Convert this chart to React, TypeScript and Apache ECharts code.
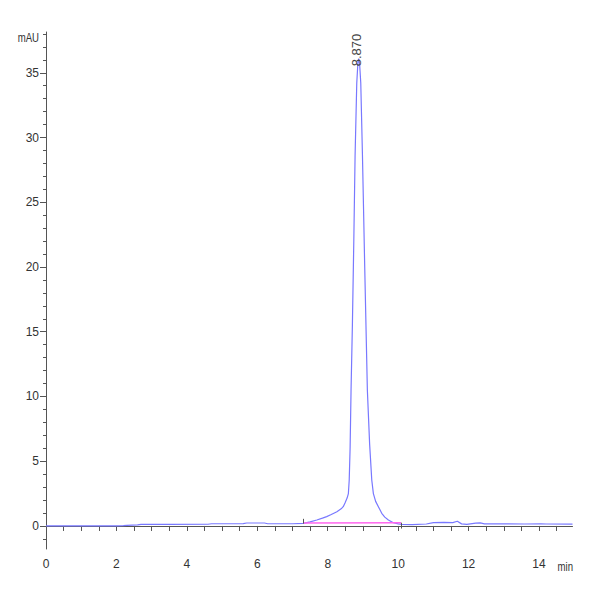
import React, { useEffect, useRef } from "react";
import * as echarts from "echarts";

const TIME = [
  0, 1.0, 2.0, 2.2, 2.3, 2.6, 2.7, 3.5, 4.6, 4.7, 5.6, 5.7, 6.2, 6.3, 7.0,
  7.31, 7.5, 7.69, 7.85, 7.97, 8.1, 8.26, 8.38, 8.44, 8.49, 8.55, 8.586, 8.61,
  8.635, 8.662, 8.7, 8.74, 8.776, 8.824, 8.855, 8.88, 8.905, 8.938, 8.985, 9.05,
  9.125, 9.19, 9.25, 9.296, 9.36, 9.438, 9.534, 9.62, 9.722, 9.864, 10.0, 10.1,
  10.4, 10.8, 11.0, 11.3, 11.55, 11.68, 11.8, 11.95, 12.2, 12.33, 12.45, 13.0,
  13.6, 14.05, 14.2, 14.95,
];
const SIGNAL = [
  0.0, 0.0, 0.01, 0.02, 0.05, 0.08, 0.12, 0.12, 0.13, 0.17, 0.18, 0.23, 0.23, 0.17, 0.17,
  0.2, 0.32, 0.46, 0.6, 0.72, 0.88, 1.1, 1.32, 1.49, 1.78, 2.15, 2.5, 3.55,
  6.0, 10.5, 15.5, 22.0, 28.5, 34.2, 35.7, 36.1, 35.7, 34.2, 28.7, 20.0,
  10.5, 6.3, 3.55, 2.5, 1.9, 1.49, 0.98, 0.68, 0.46, 0.25, 0.16, 0.12,
  0.1, 0.15, 0.26, 0.28, 0.26, 0.36, 0.16, 0.12, 0.22, 0.24, 0.16, 0.16,
  0.15, 0.17, 0.15, 0.14,
];

const PEAK_LABEL = "8.870";
const PEAK_LABEL_POS = [8.83, 35.5];
const BASELINE = [
  [7.31, 0.22],
  [10.08, 0.25],
];
const PEAK_START = [7.31, 0.18, 0.55];
const PEAK_END = [10.08, 0.25, -0.2];

const X_LABELS = [0, 2, 4, 6, 8, 10, 12, 14];
const X_TICKS = [
  0, 0.5, 1, 1.5, 2, 2.5, 3, 3.5, 4, 4.5, 5, 5.5, 6, 6.5, 7, 7.5, 8, 8.5, 9, 9.5,
  10, 10.5, 11, 11.5, 12, 12.5, 13, 13.5, 14, 14.5,
];
const Y_LABELS = [0, 5, 10, 15, 20, 25, 30, 35];
const Y_MINOR = [
  -1, 0, 1, 2, 3, 4, 5, 6, 7, 8, 9, 10, 11, 12, 13, 14, 15, 16, 17, 18, 19, 20,
  21, 22, 23, 24, 25, 26, 27, 28, 29, 30, 31, 32, 33, 34, 35, 36, 37, 38,
];

const FONT = "'Liberation Sans', Arial, sans-serif";
const AXIS_COLOR = "#555";
const TEXT_COLOR = "#333";

export default function App() {
  const ref = useRef<HTMLDivElement>(null);

  useEffect(() => {
    if (!ref.current) return;
    const chart = echarts.init(ref.current, null, { renderer: "svg" });
    const data = TIME.map((t, i) => [t, SIGNAL[i]]);
    const yBase = { type: "value", min: -1.78, max: 38.15, splitLine: { show: false } };
    chart.setOption({
      animation: false,
      grid: { left: 46, right: 27.5, top: 32, bottom: 51 },
      xAxis: {
        type: "value",
        min: 0,
        max: 14.95,
        splitLine: { show: false },
        axisLine: { lineStyle: { color: AXIS_COLOR, width: 1 } },
        axisTick: { customValues: X_TICKS, length: 5, lineStyle: { color: AXIS_COLOR } },
        axisLabel: {
          customValues: X_LABELS,
          margin: 9,
          color: TEXT_COLOR,
          fontSize: 12,
          fontFamily: FONT,
        },
      },
      yAxis: [
        {
          ...yBase,
          axisLine: { show: true, lineStyle: { color: AXIS_COLOR, width: 1 } },
          axisTick: { customValues: Y_LABELS, length: 6, lineStyle: { color: AXIS_COLOR } },
          axisLabel: {
            customValues: Y_LABELS,
            margin: 7,
            color: TEXT_COLOR,
            fontSize: 12,
            fontFamily: FONT,
          },
        },
        {
          ...yBase,
          position: "left",
          axisLine: { show: false },
          axisTick: { show: true, customValues: Y_MINOR, length: 3, lineStyle: { color: AXIS_COLOR } },
          axisLabel: { show: false },
        },
      ],
      graphic: [
        {
          type: "text",
          x: 39,
          y: 38,
          scaleX: 0.8,
          style: {
            text: "mAU",
            fill: TEXT_COLOR,
            fontSize: 12,
            fontFamily: FONT,
            align: "right",
            verticalAlign: "middle",
          },
        },
        {
          type: "text",
          x: 573,
          y: 567,
          scaleX: 0.8,
          style: {
            text: "min",
            fill: TEXT_COLOR,
            fontSize: 12,
            fontFamily: FONT,
            align: "right",
            verticalAlign: "middle",
          },
        },
      ],
      series: [
        {
          type: "line",
          data,
          yAxisIndex: 0,
          symbol: "none",
          lineStyle: { color: "#7878ff", width: 1.2 },
          markPoint: {
            symbol: "circle",
            symbolSize: 0,
            silent: true,
            data: [{ coord: PEAK_LABEL_POS, value: PEAK_LABEL }],
            label: {
              show: true,
              formatter: PEAK_LABEL,
              position: "inside",
              align: "left",
              verticalAlign: "middle",
              rotate: 90,
              color: "#444",
              fontSize: 13,
              fontFamily: FONT,
            },
          },
          markLine: {
            silent: true,
            symbol: "none",
            label: { show: false },
            lineStyle: { color: "#555", width: 1, type: "solid" },
            data: [
              [{ coord: [PEAK_START[0], PEAK_START[1]] }, { coord: [PEAK_START[0], PEAK_START[2]] }],
              [{ coord: [PEAK_END[0], PEAK_END[1]] }, { coord: [PEAK_END[0], PEAK_END[2]] }],
            ],
          },
        },
        {
          type: "line",
          data: BASELINE,
          yAxisIndex: 0,
          symbol: "none",
          lineStyle: { color: "#ff66ee", width: 1.5 },
        },
      ],
    });
    return () => chart.dispose();
  }, []);

  return (
    <div
      ref={ref}
      style={{ position: "fixed", left: 0, top: 0, width: 600, height: 600, background: "#fff" }}
    />
  );
}
